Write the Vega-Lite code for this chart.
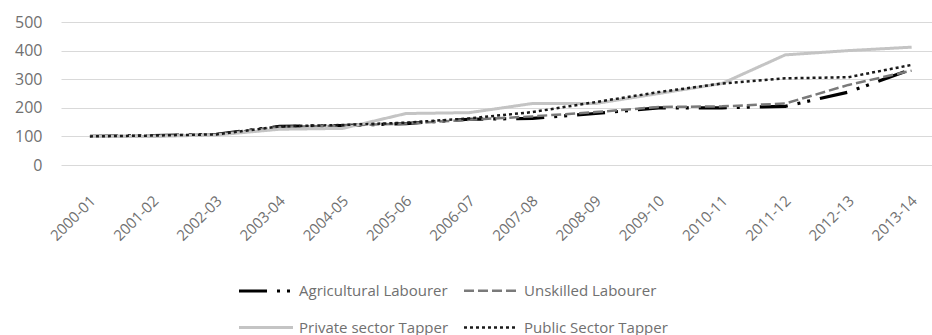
{
  "$schema": "https://vega.github.io/schema/vega-lite/v6.json",
  "width": 871,
  "height": 143,
  "autosize": {"type": "none"},
  "padding": {"left": 61, "top": 22, "right": 0, "bottom": 170},
  "background": "white",
  "data": {
    "values": [
      {"year": "2000-01", "series": "Agricultural Labourer", "value": 100},
      {"year": "2001-02", "series": "Agricultural Labourer", "value": 103},
      {"year": "2002-03", "series": "Agricultural Labourer", "value": 107},
      {"year": "2003-04", "series": "Agricultural Labourer", "value": 135},
      {"year": "2004-05", "series": "Agricultural Labourer", "value": 138},
      {"year": "2005-06", "series": "Agricultural Labourer", "value": 145},
      {"year": "2006-07", "series": "Agricultural Labourer", "value": 160},
      {"year": "2007-08", "series": "Agricultural Labourer", "value": 163},
      {"year": "2008-09", "series": "Agricultural Labourer", "value": 180},
      {"year": "2009-10", "series": "Agricultural Labourer", "value": 200},
      {"year": "2010-11", "series": "Agricultural Labourer", "value": 200},
      {"year": "2011-12", "series": "Agricultural Labourer", "value": 205},
      {"year": "2012-13", "series": "Agricultural Labourer", "value": 255},
      {"year": "2013-14", "series": "Agricultural Labourer", "value": 335},
      {"year": "2000-01", "series": "Unskilled Labourer", "value": 100},
      {"year": "2001-02", "series": "Unskilled Labourer", "value": 103},
      {"year": "2002-03", "series": "Unskilled Labourer", "value": 107},
      {"year": "2003-04", "series": "Unskilled Labourer", "value": 133},
      {"year": "2004-05", "series": "Unskilled Labourer", "value": 138},
      {"year": "2005-06", "series": "Unskilled Labourer", "value": 145},
      {"year": "2006-07", "series": "Unskilled Labourer", "value": 158},
      {"year": "2007-08", "series": "Unskilled Labourer", "value": 170},
      {"year": "2008-09", "series": "Unskilled Labourer", "value": 185},
      {"year": "2009-10", "series": "Unskilled Labourer", "value": 203},
      {"year": "2010-11", "series": "Unskilled Labourer", "value": 205},
      {"year": "2011-12", "series": "Unskilled Labourer", "value": 215},
      {"year": "2012-13", "series": "Unskilled Labourer", "value": 280},
      {"year": "2013-14", "series": "Unskilled Labourer", "value": 330},
      {"year": "2000-01", "series": "Private sector Tapper", "value": 100},
      {"year": "2001-02", "series": "Private sector Tapper", "value": 100},
      {"year": "2002-03", "series": "Private sector Tapper", "value": 105},
      {"year": "2003-04", "series": "Private sector Tapper", "value": 125},
      {"year": "2004-05", "series": "Private sector Tapper", "value": 128},
      {"year": "2005-06", "series": "Private sector Tapper", "value": 180},
      {"year": "2006-07", "series": "Private sector Tapper", "value": 183},
      {"year": "2007-08", "series": "Private sector Tapper", "value": 215},
      {"year": "2008-09", "series": "Private sector Tapper", "value": 215},
      {"year": "2009-10", "series": "Private sector Tapper", "value": 250},
      {"year": "2010-11", "series": "Private sector Tapper", "value": 285},
      {"year": "2011-12", "series": "Private sector Tapper", "value": 385},
      {"year": "2012-13", "series": "Private sector Tapper", "value": 400},
      {"year": "2013-14", "series": "Private sector Tapper", "value": 412},
      {"year": "2000-01", "series": "Public Sector Tapper", "value": 100},
      {"year": "2001-02", "series": "Public Sector Tapper", "value": 103},
      {"year": "2002-03", "series": "Public Sector Tapper", "value": 107},
      {"year": "2003-04", "series": "Public Sector Tapper", "value": 135},
      {"year": "2004-05", "series": "Public Sector Tapper", "value": 140},
      {"year": "2005-06", "series": "Public Sector Tapper", "value": 148},
      {"year": "2006-07", "series": "Public Sector Tapper", "value": 163},
      {"year": "2007-08", "series": "Public Sector Tapper", "value": 185},
      {"year": "2008-09", "series": "Public Sector Tapper", "value": 220},
      {"year": "2009-10", "series": "Public Sector Tapper", "value": 255},
      {"year": "2010-11", "series": "Public Sector Tapper", "value": 285},
      {"year": "2011-12", "series": "Public Sector Tapper", "value": 303},
      {"year": "2012-13", "series": "Public Sector Tapper", "value": 307},
      {"year": "2013-14", "series": "Public Sector Tapper", "value": 350}
    ]
  },
  "mark": {"type": "line", "strokeCap": "butt", "strokeJoin": "round"},
  "encoding": {
    "x": {
      "field": "year",
      "type": "ordinal",
      "sort": null,
      "scale": {"type": "point", "padding": 0.39, "align": 0.587},
      "axis": {
        "title": null,
        "labelAngle": -45,
        "labelAlign": "right",
        "labelBaseline": "middle",
        "labelPadding": 33,
        "labelOffset": 2.5,
        "labelFont": "Open Sans",
        "labelFontSize": 15,
        "labelColor": "#707070",
        "labelOverlap": false,
        "labelBound": false,
        "ticks": false,
        "domain": false,
        "grid": false
      }
    },
    "y": {
      "field": "value",
      "type": "quantitative",
      "scale": {"domain": [0, 500], "nice": false},
      "axis": {
        "title": null,
        "values": [0, 100, 200, 300, 400, 500],
        "labelFont": "Open Sans",
        "labelFontSize": 16,
        "labelColor": "#707070",
        "labelPadding": 19,
        "ticks": false,
        "domain": false,
        "gridColor": "#d9d9d9",
        "gridWidth": 1.2
      }
    },
    "color": {
      "field": "series",
      "type": "nominal",
      "scale": {
        "domain": ["Agricultural Labourer", "Unskilled Labourer", "Private sector Tapper", "Public Sector Tapper"],
        "range": ["#000000", "#7a7a7a", "#c4c4c4", "#1a1a1a"]
      },
      "legend": {
        "title": null,
        "orient": "none",
        "legendX": 176,
        "legendY": 240,
        "direction": "horizontal",
        "columns": 2,
        "columnPadding": 10,
        "rowPadding": -20,
        "symbolType": "stroke",
        "symbolSize": 2916,
        "symbolStrokeWidth": 2.5,
        "labelFont": "Open Sans",
        "labelFontSize": 15,
        "labelColor": "#707070",
        "labelOffset": 4
      }
    },
    "strokeDash": {
      "field": "series",
      "type": "nominal",
      "scale": {
        "domain": ["Agricultural Labourer", "Unskilled Labourer", "Private sector Tapper", "Public Sector Tapper"],
        "range": [[28, 10, 3, 7, 3, 10], [10, 4], [1, 0], [3, 3]]
      }
    },
    "strokeWidth": {
      "field": "series",
      "type": "nominal",
      "scale": {
        "type": "ordinal",
        "domain": ["Agricultural Labourer", "Unskilled Labourer", "Private sector Tapper", "Public Sector Tapper"],
        "range": [3.2, 2.5, 3, 2.5]
      },
      "legend": null
    }
  },
  "config": {"view": {"stroke": null}}
}
